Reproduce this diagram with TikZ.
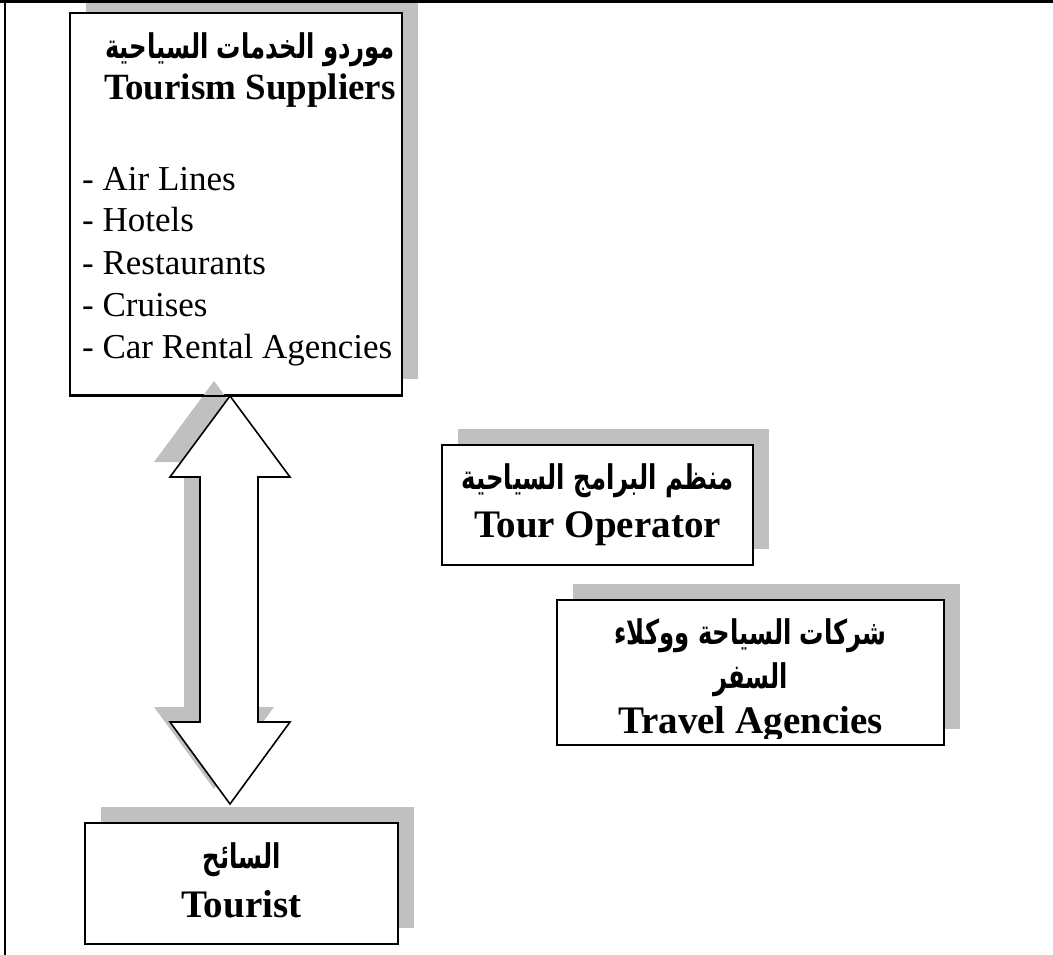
\documentclass[tikz,border=0pt]{standalone}
\usepackage{fontspec}
\usepackage{graphicx}
\setmainfont{Liberation Serif}
\newfontfamily\arabicfont[Script=Arabic]{DejaVu Sans}
\TeXXeTstate=1
\usetikzlibrary{calc,shadows}
\definecolor{shadegray}{RGB}{192,192,192}
\newcommand{\ar}[1]{\scalebox{0.715}[1]{\arabicfont\bfseries\beginR #1\endR}}
\tikzset{
  panel/.style={draw=black, line width=2pt, fill=white, rectangle, inner sep=0pt,
    drop shadow={shadow xshift=16pt, shadow yshift=16pt, fill=shadegray, opacity=1}},
  entxt/.style={anchor=base, inner sep=0pt, font=\fontsize{39}{44}\selectfont\bfseries},
  artxt/.style={anchor=base, inner sep=0pt, font=\fontsize{34}{38}\selectfont},
  listtxt/.style={anchor=base west, inner sep=0pt, font=\fontsize{35}{42}\selectfont},
  blockarrow/.style={draw=black, line width=1.6pt, fill=white, line join=miter},
  arrowshade/.style={fill=shadegray, draw=none}
}
\begin{document}
\begin{tikzpicture}[x=1pt, y=-1pt]
\useasboundingbox (0,0) rectangle (1053,955);

% boxes (centre, size)
\node[panel, minimum width=332pt, minimum height=382pt] (sup) at (236,204) {};
\node[panel, minimum width=311pt, minimum height=120pt] (op) at (597.5,505) {};
\node[panel, minimum width=387pt, minimum height=145pt] (ag) at (750.5,672.5) {};
\node[panel, minimum width=313pt, minimum height=121pt] (tou) at (241.5,883.5) {};

% tourism suppliers
\node[artxt] (supar) at (250,59) {\ar{موردو الخدمات السياحية}};
\node[entxt, font=\fontsize{37}{44}\selectfont\bfseries] (supen) at (250,100) {Tourism Suppliers};
\node[listtxt] (l1) at (82,190) {- Air Lines};
\node[listtxt] (l2) at (82,232) {- Hotels};
\node[listtxt] (l3) at (82,274) {- Restaurants};
\node[listtxt] (l4) at (82,316) {- Cruises};
\node[listtxt] (l5) at (82,358) {- Car Rental Agencies};

% tour operator
\node[artxt] (opar) at (597.5,489) {\ar{منظم البرامج السياحية}};
\node[entxt] (open) at (597.5,537) {Tour Operator};

% travel agencies (last line cut by the frame of the box)
\node[artxt] (agar1) at (750.5,644) {\ar{شركات السياحة ووكلاء}};
\node[artxt] (agar2) at (750.5,688) {\ar{السفر}};
\begin{scope}
  \clip (ag.north west) rectangle ($(ag.south east)+(0,-8)$);
  \node[entxt] (agen) at (750.5,733) {Travel Agencies};
\end{scope}

% tourist
\node[artxt] (touar) at (241.5,868) {\ar{السائح}};
\node[entxt] (touen) at (241.5,917) {Tourist};

% two-way block arrow between suppliers and tourist
\coordinate (atop) at ($(sup.south)+(-6,0)$);
\coordinate (abot) at ($(tou.north)+(-11.5,-18)$);
\coordinate (satop) at ($(atop)+(-16,-15)$);
\coordinate (sabot) at ($(abot)+(-16,-15)$);
\fill[arrowshade]
  (satop) -- ++(60,81) -- ++(-32,0) |- ($(sabot)+(60,-82)$) -- (sabot)
  -- ++(-60,-82) -| ($(satop)+(-30,81)$) -- ++(-30,0) -- cycle;
\draw[line width=2pt] (sup.south west) -- (sup.south east);
\draw[blockarrow]
  (atop) -- ++(60,81) -- ++(-32,0) |- ($(abot)+(60,-82)$) -- (abot)
  -- ++(-60,-82) -| ($(atop)+(-30,81)$) -- ++(-30,0) -- cycle;

% page frame
\draw[line width=3pt] (0,1.5) -- (1053,1.5);
\draw[line width=2pt] (5,0) -- (5,955);
\end{tikzpicture}
\end{document}
